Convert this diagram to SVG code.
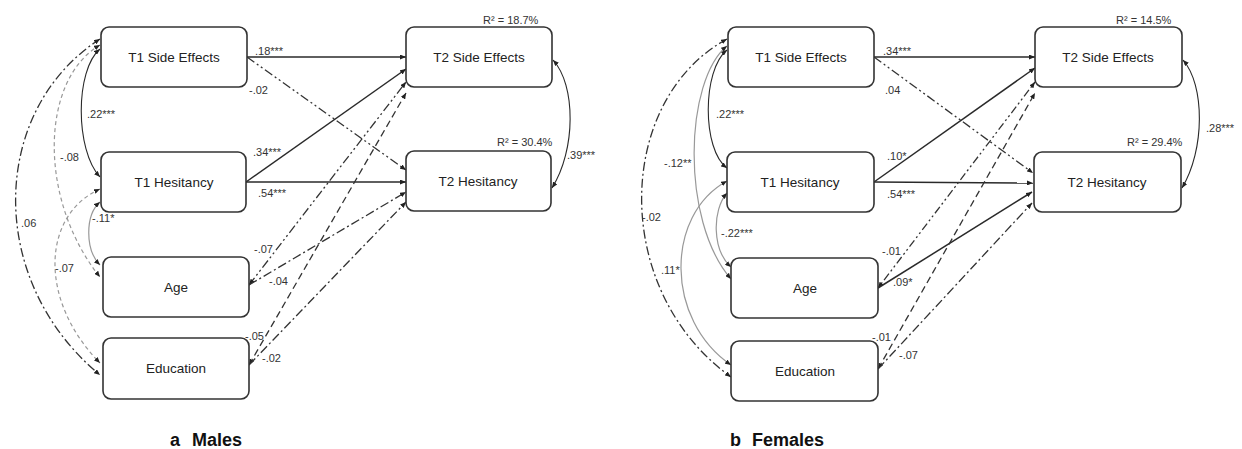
<svg xmlns="http://www.w3.org/2000/svg" width="1242" height="449" viewBox="0 0 1242 449">
<style>
.box{fill:#fff;stroke:#333;stroke-width:1.6}
.lbl{font-family:"Liberation Sans",Arial,sans-serif;font-size:13.5px;fill:#222;text-anchor:middle}
.c{font-family:"Liberation Sans",Arial,sans-serif;font-size:11px;fill:#333}
.cap{font-family:"Liberation Sans",Arial,sans-serif;font-size:18px;font-weight:bold;fill:#111}
.s{fill:none;stroke:#2a2a2a;stroke-width:1.5}
.s1{fill:none;stroke:#2a2a2a;stroke-width:1.1}
.g{fill:none;stroke:#999;stroke-width:1.2}
.gd{fill:none;stroke:#999;stroke-width:1.2;stroke-dasharray:4 3}
.dd{fill:none;stroke:#333;stroke-width:1.3;stroke-dasharray:9 3 2 3}
.ddd{fill:none;stroke:#333;stroke-width:1.3;stroke-dasharray:9 3 2 3 2 3}
.dt{fill:none;stroke:#333;stroke-width:1.3;stroke-dasharray:2 3 2 3 8 3}
.ds{fill:none;stroke:#333;stroke-width:1.3;stroke-dasharray:7 4}
</style>
<defs>
<marker id="ah" markerUnits="userSpaceOnUse" markerWidth="6" markerHeight="5" refX="6" refY="2.5" orient="auto-start-reverse">
<path d="M0,0 L6,2.5 L0,5 z" fill="#222"/>
</marker>
</defs>
<rect width="1242" height="449" fill="#fff"/>

<g id="connectors">
<path class="s" d="M247,57 L406,57" marker-end="url(#ah)"/>
<path class="ddd" d="M247,57 L406,170" marker-end="url(#ah)"/>
<path class="s" d="M246,182 L406,69" marker-end="url(#ah)"/>
<path class="s" d="M246,182 L406,182" marker-end="url(#ah)"/>
<path class="ddd" d="M249,285 L406,82" marker-start="url(#ah)" marker-end="url(#ah)"/>
<path class="dd" d="M249,285 L406,192" marker-end="url(#ah)"/>
<path class="ds" d="M249,365 L406,93" marker-start="url(#ah)" marker-end="url(#ah)"/>
<path class="dd" d="M249,365 L406,202" marker-end="url(#ah)"/>
<path class="s1" d="M100,49 C75,70 75,150 100,177" marker-start="url(#ah)" marker-end="url(#ah)"/>
<path class="gd" d="M100,45 C40,80 38,200 100,277" marker-start="url(#ah)" marker-end="url(#ah)"/>
<path class="dd" d="M100,39 C-10,110 -15,280 100,375" marker-start="url(#ah)" marker-end="url(#ah)"/>
<path class="gd" d="M100,189 C42,215 38,300 100,363" marker-start="url(#ah)" marker-end="url(#ah)"/>
<path class="g" d="M100,202 C85,215 85,250 100,265" marker-start="url(#ah)" marker-end="url(#ah)"/>
<path class="s1" d="M553,60 C576,85 576,150 552,188" marker-start="url(#ah)" marker-end="url(#ah)"/>

<path class="s" d="M874,57 L1035,57" marker-end="url(#ah)"/>
<path class="ddd" d="M874,57 L1033,173" marker-end="url(#ah)"/>
<path class="s" d="M874,182 L1035,68" marker-end="url(#ah)"/>
<path class="s" d="M874,182 L1033,183" marker-end="url(#ah)"/>
<path class="dt" d="M878,288 L1035,82" marker-start="url(#ah)" marker-end="url(#ah)"/>
<path class="s" d="M878,288 L1032,192" marker-end="url(#ah)"/>
<path class="ds" d="M878,369 L1035,93" marker-start="url(#ah)" marker-end="url(#ah)"/>
<path class="dd" d="M878,369 L1032,203" marker-end="url(#ah)"/>
<path class="s1" d="M727,50 C702,70 702,150 727,168" marker-start="url(#ah)" marker-end="url(#ah)"/>
<path class="g" d="M727,46 C685,80 680,220 731,279" marker-start="url(#ah)" marker-end="url(#ah)"/>
<path class="g" d="M727,193 C712,210 712,250 731,267" marker-start="url(#ah)" marker-end="url(#ah)"/>
<path class="g" d="M727,181 C665,215 665,320 731,365" marker-start="url(#ah)" marker-end="url(#ah)"/>
<path class="dd" d="M727,39 C615,100 610,290 731,377" marker-start="url(#ah)" marker-end="url(#ah)"/>
<path class="s1" d="M1183,60 C1205,85 1205,150 1182,188" marker-start="url(#ah)" marker-end="url(#ah)"/>
</g>

<g id="m-t1se"><rect class="box" x="101" y="27" width="146" height="60" rx="8"/><text class="lbl" x="174" y="62">T1 Side Effects</text></g>
<g id="m-t1h"><rect class="box" x="101" y="152" width="145" height="60" rx="8"/><text class="lbl" x="174" y="187">T1 Hesitancy</text></g>
<g id="m-age"><rect class="box" x="103" y="257" width="146" height="60" rx="8"/><text class="lbl" x="176" y="292">Age</text></g>
<g id="m-edu"><rect class="box" x="103" y="338" width="146" height="61" rx="8"/><text class="lbl" x="176" y="373">Education</text></g>
<g id="m-t2se"><rect class="box" x="406" y="27" width="146" height="60" rx="8"/><text class="lbl" x="479" y="62">T2 Side Effects</text></g>
<g id="m-t2h"><rect class="box" x="406" y="151" width="145" height="60" rx="8"/><text class="lbl" x="478" y="186">T2 Hesitancy</text></g>

<g id="f-t1se"><rect class="box" x="728" y="27" width="146" height="60" rx="8"/><text class="lbl" x="801" y="62">T1 Side Effects</text></g>
<g id="f-t1h"><rect class="box" x="727" y="152" width="147" height="60" rx="8"/><text class="lbl" x="800" y="187">T1 Hesitancy</text></g>
<g id="f-age"><rect class="box" x="731" y="258" width="147" height="60" rx="8"/><text class="lbl" x="805" y="293">Age</text></g>
<g id="f-edu"><rect class="box" x="731" y="341" width="147" height="60" rx="8"/><text class="lbl" x="805" y="376">Education</text></g>
<g id="f-t2se"><rect class="box" x="1035" y="27" width="147" height="60" rx="8"/><text class="lbl" x="1108" y="62">T2 Side Effects</text></g>
<g id="f-t2h"><rect class="box" x="1034" y="152" width="147" height="60" rx="8"/><text class="lbl" x="1107" y="187">T2 Hesitancy</text></g>

<g id="labels">
<text class="c" x="483" y="24">R² = 18.7%</text>
<text class="c" x="497" y="146">R² = 30.4%</text>
<text class="c" x="567" y="159">.39***</text>
<text class="c" x="255" y="55">.18***</text>
<text class="c" x="249" y="94">-.02</text>
<text class="c" x="253" y="156">.34***</text>
<text class="c" x="258" y="197">.54***</text>
<text class="c" x="254" y="253">-.07</text>
<text class="c" x="269" y="285">-.04</text>
<text class="c" x="245" y="340">-.05</text>
<text class="c" x="262" y="362">-.02</text>
<text class="c" x="87" y="118">.22***</text>
<text class="c" x="60" y="161">-.08</text>
<text class="c" x="21" y="227">.06</text>
<text class="c" x="92" y="222">-.11*</text>
<text class="c" x="55" y="272">-.07</text>

<text class="c" x="1116" y="24">R² = 14.5%</text>
<text class="c" x="1127" y="146">R² = 29.4%</text>
<text class="c" x="1206" y="132">.28***</text>
<text class="c" x="883" y="55">.34***</text>
<text class="c" x="885" y="94">.04</text>
<text class="c" x="887" y="160">.10*</text>
<text class="c" x="887" y="198">.54***</text>
<text class="c" x="882" y="255">-.01</text>
<text class="c" x="893" y="286">.09*</text>
<text class="c" x="872" y="341">-.01</text>
<text class="c" x="899" y="359">-.07</text>
<text class="c" x="716" y="118">.22***</text>
<text class="c" x="664" y="167">-.12**</text>
<text class="c" x="642" y="221">-.02</text>
<text class="c" x="721" y="237">-.22***</text>
<text class="c" x="661" y="274">.11*</text>

<text class="cap" x="170" y="446">a<tspan x="192">Males</tspan></text>
<text class="cap" x="730" y="446">b<tspan x="752">Females</tspan></text>
</g>
</svg>
